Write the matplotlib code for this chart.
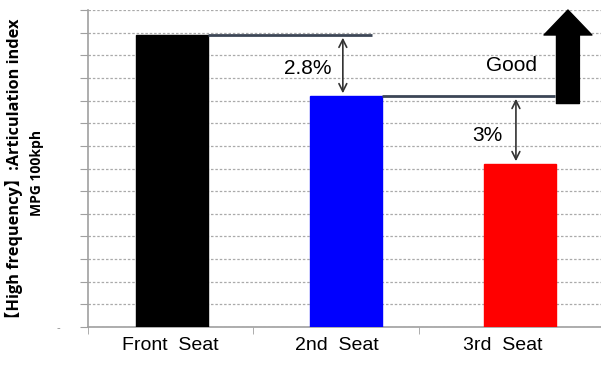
import numpy as np
import matplotlib.pyplot as plt

seats = ['Front  Seat', '2nd  Seat', '3rd  Seat']
index_values = [12.9, 10.2, 7.2]
bar_colors = ['#000000', '#0000ff', '#ff0000']
drops = ['2.8%', '3%']

plt.rcParams['font.family'] = ['Liberation Sans', 'DejaVu Sans']

fig = plt.figure(figsize=(6.01, 3.65), dpi=100)
ax = fig.add_axes([0.1464, 0.104, 0.8536, 0.8686])

x = np.arange(len(seats))
ax.bar(x, index_values, width=0.41, color=bar_colors, edgecolor=bar_colors, zorder=3)

ax.set_xlim(-0.483, 2.466)
ax.set_ylim(0, 14)

# dashed horizontal grid, no y values shown
ax.set_yticks(np.arange(0, 15, 1))
ax.set_yticklabels(['-'] + [''] * 14, color='#888888', fontsize=8)
ax.tick_params(axis='y', length=6, color='#a0a0a0', pad=14)
ax.grid(axis='y', color='#aaaaaa', linestyle=(0, (2, 1.5)), linewidth=0.9, zorder=0)

ax.set_xticks(x * 0.955 - 0.01)
ax.set_xticklabels(seats, fontsize=14)
ax.set_xticks([-0.483, 0.466, 1.42], minor=True)
ax.tick_params(axis='x', which='major', length=0, pad=7)
ax.tick_params(axis='x', which='minor', length=5, color='#a0a0a0')

for side in ['top', 'right']:
    ax.spines[side].set_visible(False)
for side in ['left', 'bottom']:
    ax.spines[side].set_color('#a0a0a0')
    ax.spines[side].set_linewidth(1.2)

# reference levels from the bar tops
line_col = '#3c4656'
ax.hlines(index_values[0], 0.205, 1.15, color=line_col, linewidth=2, zorder=4)
ax.hlines(index_values[1], 1.205, 2.2, color=line_col, linewidth=2, zorder=4)

arrow_style = dict(arrowstyle='<->', color='#333333', lw=1.2, mutation_scale=14)
ax.annotate('', xy=(0.982, index_values[1]), xytext=(0.982, index_values[0]),
            arrowprops=arrow_style, zorder=5)
ax.annotate('', xy=(1.977, index_values[2]), xytext=(1.977, index_values[1]),
            arrowprops=arrow_style, zorder=5)

ax.text(0.78, 11.4, drops[0], fontsize=15, ha='center', va='center', zorder=5)
ax.text(1.81, 8.45, drops[1], fontsize=15, ha='center', va='center', zorder=5)
ax.text(1.954, 11.55, 'Good', fontsize=15, ha='center', va='center', zorder=5)

# big "higher is better" arrow
ax.annotate('', xy=(2.276, 14.0), xytext=(2.276, 9.87),
            arrowprops=dict(arrowstyle='simple,head_width=1.38,head_length=0.72,tail_width=0.66',
                            color='black', mutation_scale=25, shrinkA=0, shrinkB=0),
            annotation_clip=False, zorder=6)

# two-line y label
label_font = ['Open Sans', 'Noto Sans CJK JP']
fig.text(0.0233, 0.526, '【High frequency】:Articulation index', rotation=90,
         ha='center', va='center', fontsize=11.8, fontweight='bold', family=label_font)
fig.text(0.0616, 0.526, 'MPG 100kph', rotation=90,
         ha='center', va='center', fontsize=10, fontweight='bold', family=label_font)

fig.savefig('out.png', dpi=100)
